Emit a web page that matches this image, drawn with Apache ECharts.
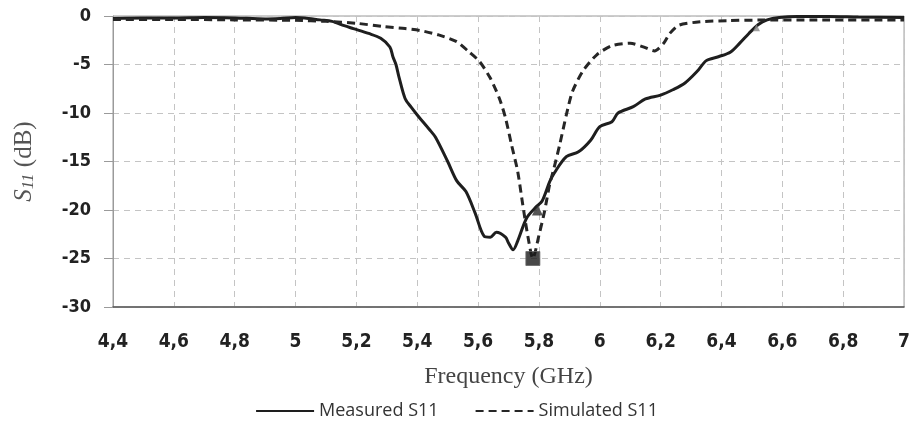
<!DOCTYPE html>
<html>
<head>
<meta charset="utf-8">
<script src="https://cdn.jsdelivr.net/npm/echarts@6/dist/echarts.min.js"></script>
<style>
html,body{margin:0;padding:0;background:#fff;}
#chart{width:913px;height:427px;}
</style>
</head>
<body>
<div id="chart"></div>
<script>
// Data
var measuredFreq = [4.40,4.50,4.60,4.70,4.80,4.90,4.95,5.00,5.03,5.08,5.12,5.16,5.19,5.24,5.28,5.31,5.32,5.33,5.34,5.36,5.38,5.40,5.44,5.46,5.50,5.53,5.56,5.59,5.62,5.64,5.66,5.69,5.70,5.715,5.73,5.76,5.79,5.81,5.835,5.85,5.89,5.93,5.97,6.00,6.04,6.06,6.11,6.15,6.20,6.24,6.28,6.32,6.35,6.39,6.43,6.46,6.49,6.52,6.55,6.59,6.65,6.75,6.85,7.00];
var measuredDb   = [-0.25,-0.2,-0.2,-0.15,-0.2,-0.3,-0.25,-0.15,-0.2,-0.4,-0.55,-1.0,-1.3,-1.8,-2.3,-3.2,-4.2,-5.0,-6.3,-8.5,-9.4,-10.2,-11.7,-12.5,-15.0,-17.0,-18.1,-20.3,-22.7,-22.8,-22.3,-22.8,-23.4,-24.1,-23.2,-20.8,-19.7,-19.1,-17.1,-16.2,-14.5,-14.0,-12.8,-11.4,-10.9,-10.0,-9.35,-8.55,-8.15,-7.6,-6.9,-5.7,-4.6,-4.2,-3.7,-2.8,-1.8,-0.9,-0.4,-0.15,-0.05,-0.05,-0.1,-0.15];

var simulatedFreq = [4.40,4.60,4.80,5.00,5.10,5.20,5.29,5.36,5.41,5.47,5.53,5.57,5.605,5.64,5.67,5.69,5.71,5.73,5.747,5.763,5.78,5.80,5.818,5.835,5.85,5.868,5.89,5.91,5.944,5.99,6.04,6.10,6.14,6.18,6.21,6.23,6.26,6.33,6.42,6.52,6.70,7.00];
var simulatedDb   = [-0.35,-0.35,-0.4,-0.45,-0.55,-0.75,-1.1,-1.3,-1.5,-1.95,-2.65,-3.7,-4.7,-6.4,-8.5,-10.5,-13.3,-16.0,-19.5,-22.6,-25.0,-22.6,-20.2,-17.4,-15.6,-13.3,-10.2,-7.8,-5.7,-4.0,-3.06,-2.8,-3.15,-3.6,-2.8,-1.8,-0.95,-0.6,-0.48,-0.42,-0.4,-0.4];

var markerFreq = [5.78, 5.795, 6.515];
var markerDb   = [-25, -20, -1.2];

var xTicks = {min: 4.4, max: 7, interval: 0.2};
var yTicks = {min: -30, max: 0, interval: 5};

function pairs(xs, ys){ return xs.map(function(x,i){ return [x, ys[i]]; }); }

var chart = echarts.init(document.getElementById('chart'), null, {renderer:'canvas'});
var option = {
  backgroundColor: '#ffffff',
  animation: false,
  grid: {left: 113, right: 8, top: 16, bottom: 120, show: true, borderColor: '#9a9a9a', borderWidth: 1, containLabel: false},
  legend: {
    bottom: 2, left: 'center',
    itemWidth: 58, itemHeight: 14, itemGap: 36,
    itemStyle: {opacity: 0},
    textStyle: {fontFamily: 'Open Sans', fontSize: 18, color: '#333'},
    data: ['Measured S11', 'Simulated S11']
  },
  xAxis: {
    type: 'value', min: xTicks.min, max: xTicks.max, interval: xTicks.interval,
    name: 'Frequency (GHz)', nameLocation: 'middle', nameGap: 58,
    nameTextStyle: {fontFamily: 'Liberation Serif', fontSize: 24, color: '#444'},
    axisLine: {show: true, onZero: false, lineStyle: {color: '#555', width: 1.5}},
    axisTick: {show: false},
    axisLabel: {
      margin: 26, fontFamily: 'DejaVu Sans Condensed, DejaVu Sans', fontWeight: 'bold', fontSize: 19, color: '#222',
      formatter: function(v){ return String(Math.round(v*10)/10).replace('.', ','); }
    },
    splitLine: {show: true, lineStyle: {color: '#c4c4c4', type: [6,5], width: 1}}
  },
  yAxis: {
    type: 'value', min: yTicks.min, max: yTicks.max, interval: yTicks.interval,
    name: '{i|S}{sub|11} (dB)', nameLocation: 'middle', nameGap: 76, nameRotate: 90,
    nameTextStyle: {
      fontFamily: 'Liberation Serif', fontSize: 25, color: '#555',
      rich: {
        i: {fontFamily: 'Liberation Serif', fontStyle: 'italic', fontSize: 25, color: '#555'},
        sub: {fontFamily: 'Liberation Serif', fontStyle: 'italic', fontSize: 17, color: '#555', verticalAlign: 'bottom', padding: [9,0,0,0]}
      }
    },
    axisLine: {show: true, lineStyle: {color: '#9a9a9a', width: 1}},
    axisTick: {show: true, length: 9, lineStyle: {color: '#9a9a9a'}},
    axisLabel: {margin: 22, fontFamily: 'DejaVu Sans Condensed, DejaVu Sans', fontWeight: 'bold', fontSize: 18, color: '#222'},
    splitLine: {show: true, lineStyle: {color: '#c4c4c4', type: [6,5], width: 1}}
  },
  series: [
    {
      name: 'Measured S11', type: 'line', data: pairs(measuredFreq, measuredDb),
      symbol: 'none', smooth: 0.3,
      lineStyle: {color: '#1e1e1e', width: 3, type: 'solid'},
      itemStyle: {color: '#1e1e1e'}, z: 3
    },
    {
      name: 'Simulated S11', type: 'line', data: pairs(simulatedFreq, simulatedDb),
      symbol: 'none', smooth: 0.25,
      lineStyle: {color: '#262626', width: 3, type: [8,5]},
      itemStyle: {color: '#262626'}, z: 3
    },
    {
      name: 'markers', type: 'scatter',
      data: [
        {value: [markerFreq[0], markerDb[0]], symbol: 'rect', symbolSize: 14, itemStyle: {color: '#1a1a1a', borderColor: '#666', borderWidth: 1}},
        {value: [markerFreq[1], markerDb[1]], symbol: 'triangle', symbolSize: 11, itemStyle: {color: '#2a2a2a'}},
        {value: [markerFreq[2], markerDb[2]], symbol: 'triangle', symbolSize: 7, itemStyle: {color: '#888'}}
      ],
      z: 4, silent: true
    }
  ]
};
chart.setOption(option);
</script>
</body>
</html>
